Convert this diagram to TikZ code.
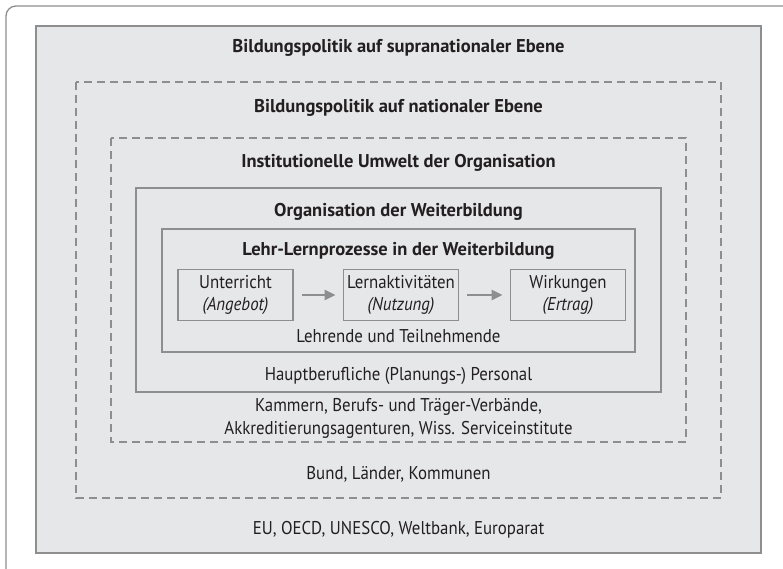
\documentclass[tikz,border=0pt]{standalone}
\usepackage{fontspec}
\setmainfont{PT Sans}
\newfontfamily\schmal[FakeStretch=0.91]{PT Sans}
\usetikzlibrary{arrows.meta}
\definecolor{rahmen}{HTML}{8E8E8E}
\definecolor{flaeche}{HTML}{E6E7E8}
\definecolor{schrift}{HTML}{231F20}
\tikzset{
	ebene/.style={draw=rahmen, line width=1.8pt},
	ebenegestr/.style={draw=rahmen, line width=1.8pt, dash pattern=on 8pt off 5pt},
	titel/.style={text=schrift, font=\fontsize{18.5}{21}\selectfont\bfseries},
	zeile/.style={text=schrift, font=\schmal\fontsize{18.5}{23}\selectfont, align=center},
	stufe/.style={draw=rahmen, line width=1.8pt, fill=flaeche, minimum width=115pt, minimum height=51pt, inner sep=0pt, text=schrift, font=\schmal\fontsize{18.5}{22}\selectfont, align=center},
	pfeil/.style={draw=rahmen, line width=2.6pt, -{Triangle[length=11pt,width=10pt]}}
}
\begin{document}
\begin{tikzpicture}[x=1pt,y={(0pt,-1pt)}]
				\useasboundingbox (0,0) rectangle (783,569);
				\draw[rahmen, line width=1.3pt, rounded corners=10pt] (6,6) rectangle (800,590);
				\draw[ebene, fill=flaeche] (36,26) rectangle (761,553);
				\draw[ebenegestr] (76,82) rectangle (721,498);
				\draw[ebenegestr] (111,138) rectangle (686,442);
				\draw[ebene] (136,188) rectangle (661,392);
				\draw[ebene] (162,229) rectangle (635,352);
				\node[titel] (supra) at (398.5,48) {Bildungspolitik auf supranationaler Ebene};
				\node[titel] (national) at (398.5,108) {Bildungspolitik auf nationaler Ebene};
				\node[titel] (umwelt) at (398.5,163) {Institutionelle Umwelt der Organisation};
				\node[titel] (orga) at (398.5,212) {Organisation der Weiterbildung};
				\node[titel] (prozess) at (398.5,251) {Lehr-Lernprozesse in der Weiterbildung};
				\node[stufe] (angebot) at (235.5,295) {Unterricht\\\textit{(Angebot)}};
				\node[stufe] (nutzung) at (401,295) {Lernaktivitäten\\\textit{(Nutzung)}};
				\node[stufe] (ertrag) at (568,295) {Wirkungen\\\textit{(Ertrag)}};
				\draw[pfeil, shorten <=8pt, shorten >=7pt] (angebot) -- (nutzung);
				\draw[pfeil, shorten <=8pt, shorten >=7pt] (nutzung) -- (ertrag);
				\node[zeile] (lehrende) at (398.5,336) {Lehrende und Teilnehmende};
				\node[zeile] (personal) at (398.5,376) {Hauptberufliche (Planungs-) Personal};
				\node[zeile] (kammern) at (398.5,418) {Kammern, Berufs- und Träger-Verbände,\\Akkreditierungsagenturen, Wiss. Serviceinstitute};
				\node[zeile] (bund) at (398.5,474) {Bund, Länder, Kommunen};
				\node[zeile] (eu) at (398.5,530) {EU, OECD, UNESCO, Weltbank, Europarat};
			\end{tikzpicture}
\end{document}
